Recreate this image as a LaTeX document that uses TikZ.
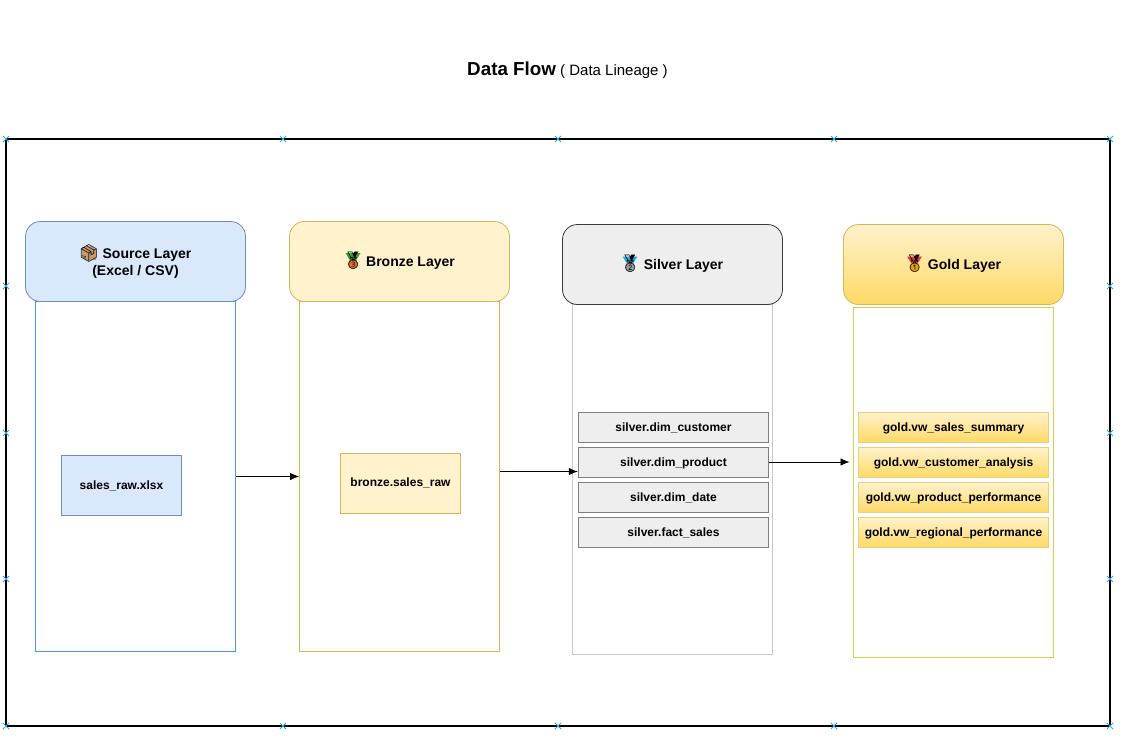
\documentclass[tikz,border=0pt]{standalone}
\usepackage{fontspec}
\setmainfont{Liberation Sans}
\newfontfamily\emojifont{Noto Emoji}
\usetikzlibrary{arrows.meta,shapes.misc}
\definecolor{srcfill}{HTML}{DAE8FC}\definecolor{srcline}{HTML}{6C8EBF}
\definecolor{srccol}{HTML}{4A9AE8}
\definecolor{brzfill}{HTML}{FFF2CC}\definecolor{brzline}{HTML}{D6B656}
\definecolor{slvfill}{HTML}{EEEEEE}\definecolor{slvline}{HTML}{36393D}
\definecolor{slvcol}{HTML}{C8C8C8}\definecolor{slvitem}{HTML}{7F7F7F}
\definecolor{gldfill}{HTML}{FFD966}\definecolor{gldcol}{HTML}{D8D04A}
\definecolor{gldedge}{HTML}{E6CF80}
\definecolor{markblue}{HTML}{29ABE2}
\definecolor{boxtan}{HTML}{C69C6D}
\definecolor{rgreen}{HTML}{2FA52F}\definecolor{rblue}{HTML}{29A9D8}\definecolor{rred}{HTML}{D93A3A}
\definecolor{mbronze}{HTML}{D9703A}\definecolor{msilver}{HTML}{9A9A9A}\definecolor{mgold}{HTML}{E0A010}
\tikzset{
  every node/.style={font=\bfseries\fontsize{14}{16.8}\selectfont, align=center, text=black},
  layerhead/.style={rounded corners=15pt, minimum width=220pt, minimum height=80pt, line width=.8pt, inner sep=0pt},
  column/.style={minimum width=200pt, minimum height=350pt, line width=.9pt, inner sep=0pt, fill=white},
  tablebox/.style={minimum width=190.5pt, minimum height=30pt, line width=1pt, inner sep=0pt, text height=10pt, text depth=.8pt, font=\bfseries\fontsize{12}{14}\selectfont},
  filebox/.style={minimum width=120.5pt, minimum height=60pt, line width=.8pt, inner sep=0pt, text height=9pt, text depth=1.8pt, font=\bfseries\fontsize{12}{14}\selectfont},
  flow/.style={-{Latex[length=9pt,width=7.5pt]}, line width=.8pt, black},
  framemark/.style={cross out, draw=markblue, line width=1pt, minimum size=6pt, inner sep=0pt, outer sep=0pt},
  goldbox/.style={top color=brzfill, bottom color=gldfill},
  icon/.style={font=\emojifont\fontsize{17}{17}\selectfont, inner sep=0pt},
}
\newcommand{\headstrut}{\rule{0pt}{12.6pt}}
\begin{document}
\begin{tikzpicture}[x=1pt,y=-1pt]
\useasboundingbox (0,0) rectangle (1123,744);
\fill[white] (0,0) rectangle (1123,744);
\node[inner sep=0pt,font=\fontsize{12}{14}\selectfont] (title) at (567.5,70.5) {{\bfseries\fontsize{18.8}{20}\selectfont Data Flow}\fontsize{15}{16}\selectfont{} ( Data Lineage )};
\node[draw=black,line width=2pt,minimum width=1104pt,minimum height=587pt,inner sep=0pt] (frame) at (558,432.5) {};
\foreach \px/\py in {6/139,283/139,558/139,834/139,1110/139,6/286,1110/286,6/433,1110/433,6/579,1110/579,6/726,283/726,558/726,834/726,1110/726}
  \node[framemark] at (\px,\py) {};
% columns
\node[column,draw=srccol] (srccol) at (135.5,476.5) {};
\node[column,draw=brzline] (brzcol) at (399.5,476.5) {};
\node[column,draw=slvcol] (slvcol) at (672.5,479.5) {};
\node[column,draw=gldcol] (gldcol) at (953.5,482.7) {};
% headers
\node[layerhead,fill=srcfill,draw=srcline] (srchead) at (135.5,261.5) {\rule{0pt}{14.6pt}\hspace*{23pt}Source Layer\\(Excel / CSV)};
\node[layerhead,fill=brzfill,draw=brzline] (brzhead) at (399.5,261.5) {\headstrut\hspace*{22pt}Bronze Layer};
\node[layerhead,fill=slvfill,draw=slvline] (slvhead) at (672.5,264.5) {\headstrut\hspace*{22pt}Silver Layer};
\node[layerhead,goldbox,draw=brzline] (gldhead) at (953.5,264.5) {\headstrut\hspace*{22pt}Gold Layer};
% icons
\fill[boxtan] (82,247) -- (92,246) -- (96,250) -- (96,260) -- (86,260) -- (82,256) -- cycle;
\node[icon] (srcicon) at (89,253) {📦};
\fill[rgreen] (345.5,253) -- (360.5,253) -- (355,262) -- (351,262) -- cycle;\fill[mbronze] (353,264) circle (5.2pt);
\node[icon] (brzicon) at (353,261) {🥉};
\fill[rblue] (622.5,256.5) -- (637.5,256.5) -- (632,265) -- (628,265) -- cycle;\fill[msilver] (630,267) circle (5.2pt);
\node[icon] (slvicon) at (630,264) {🥈};
\fill[rred] (907,256.5) -- (922,256.5) -- (916.5,265) -- (912.5,265) -- cycle;\fill[mgold] (914.5,267) circle (5.2pt);
\node[icon] (gldicon) at (914.5,264) {🥇};
% items
\node[filebox,fill=srcfill,draw=srcline] (rawfile) at (121.5,485.5) {sales\_raw.xlsx};
\node[filebox,fill=brzfill,draw=brzline] (brzfile) at (400.5,483) {bronze.sales\_raw};
\node[tablebox,fill=slvfill,draw=slvitem] (s1) at (673.5,427) {silver.dim\_customer};
\node[tablebox,fill=slvfill,draw=slvitem] (s2) at (673.5,462) {silver.dim\_product};
\node[tablebox,fill=slvfill,draw=slvitem] (s3) at (673.5,497) {silver.dim\_date};
\node[tablebox,fill=slvfill,draw=slvitem] (s4) at (673.5,532) {silver.fact\_sales};
\node[tablebox,goldbox,draw=gldedge] (g1) at (953.5,427) {gold.vw\_sales\_summary};
\node[tablebox,goldbox,draw=gldedge] (g2) at (953.5,462) {gold.vw\_customer\_analysis};
\node[tablebox,goldbox,draw=gldedge] (g3) at (953.5,497) {gold.vw\_product\_performance};
\node[tablebox,goldbox,draw=gldedge] (g4) at (953.5,532) {gold.vw\_regional\_performance};
% connectors
\coordinate (g2tip) at (849.5,462);
\draw[flow] (srccol.east |- 0,476.5) -- (brzcol.west |- 0,476.5);
\draw[flow] (brzcol.east |- 0,471.5) -- (s2.west |- 0,471.5);
\draw[flow] (s2.east) -- (g2tip);
\end{tikzpicture}
\end{document}
